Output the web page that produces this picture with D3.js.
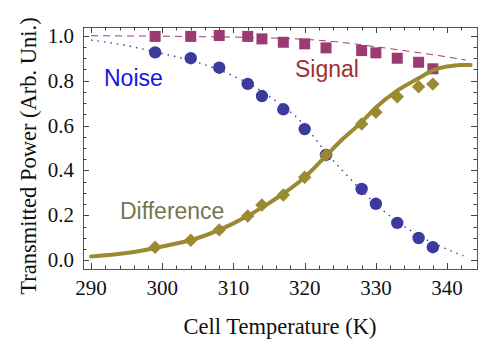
<!DOCTYPE html>
<html>
<head>
<meta charset="utf-8">
<script src="https://cdn.jsdelivr.net/npm/d3@7"></script>
<style>
  body { margin: 0; background: #fff; }
  .tick-label { font-family: "Liberation Serif", "Times New Roman", serif; font-size: 21px; fill: #111; }
  .axis-title { font-family: "Liberation Serif", "Times New Roman", serif; font-size: 22.5px; fill: #111; }
  .series-label { font-family: "Liberation Sans", Arial, sans-serif; font-size: 23px; }
</style>
</head>
<body>
<svg id="chart" width="498" height="352"></svg>
<script>
// measured temperatures (K)
var temps = [299, 304, 308, 312, 314, 317, 320, 323, 328, 330, 333, 336, 338];
var signal = [0.996, 0.996, 1.0, 0.996, 0.985, 0.970, 0.963, 0.945, 0.933, 0.923, 0.899, 0.881, 0.852];
var noise = [0.925, 0.899, 0.857, 0.785, 0.731, 0.672, 0.584, 0.469, 0.318, 0.252, 0.167, 0.100, 0.059];
var difference = [0.059, 0.090, 0.136, 0.198, 0.247, 0.291, 0.370, 0.469, 0.607, 0.659, 0.728, 0.772, 0.784];

// fitted curves
var signalFitT = [290, 295, 300, 305, 310, 315, 320, 323, 325, 330, 335, 340, 342.6];
var signalFit = [0.999, 0.998, 0.997, 0.995, 0.993, 0.989, 0.983, 0.976, 0.970, 0.950, 0.928, 0.905, 0.891];
var noiseFitT = [290, 295, 300, 305, 310, 315, 320, 323, 325, 330, 335, 340, 342.3];
var noiseFit = [0.980, 0.955, 0.920, 0.880, 0.820, 0.730, 0.600, 0.480, 0.410, 0.250, 0.130, 0.050, 0.021];
var diffFitT = [290, 295, 300, 305, 310, 315, 320, 323, 325, 328, 330, 333, 336, 338, 340, 342, 343.3];
var diffFit = [0.018, 0.033, 0.062, 0.100, 0.165, 0.255, 0.370, 0.465, 0.530, 0.615, 0.680, 0.755, 0.810, 0.845, 0.862, 0.869, 0.869];

var xTicks = [290, 300, 310, 320, 330, 340];
var yTicks = [0.0, 0.2, 0.4, 0.6, 0.8, 1.0];

var colSignal = "#9c3a72", colNoise = "#3b3b9e", colDiff = "#9a8a32";

var svg = d3.select("#chart");
var plotL = 83, plotR = 477, plotT = 27, plotB = 269;

var x = d3.scaleLinear().domain([288.87, 344.2]).range([plotL, plotR]);
var y = d3.scaleLinear().domain([-0.0378, 1.0378]).range([plotB, plotT]);

// frame
svg.append("rect")
  .attr("x", plotL + 0.5).attr("y", plotT + 0.5)
  .attr("width", plotR - plotL).attr("height", plotB - plotT)
  .attr("fill", "none").attr("stroke", "#555").attr("stroke-width", 1);

// ticks on all four sides
var g = svg.append("g").attr("stroke", "#444").attr("stroke-width", 1);
d3.range(290, 344, 2).forEach(function(t) {
  var major = t % 10 === 0;
  var len = major ? 6 : 3.5;
  var px = Math.round(x(t)) + 0.5;
  g.append("line").attr("x1", px).attr("x2", px).attr("y1", plotB).attr("y2", plotB - len);
  g.append("line").attr("x1", px).attr("x2", px).attr("y1", plotT).attr("y2", plotT + len);
});
d3.range(0, 21).forEach(function(i) {
  var v = i * 0.05;
  var major = i % 4 === 0;
  var len = major ? 6 : 3.5;
  var py = Math.round(y(v)) + 0.5;
  g.append("line").attr("x1", plotL).attr("x2", plotL + len).attr("y1", py).attr("y2", py);
  g.append("line").attr("x1", plotR).attr("x2", plotR - len).attr("y1", py).attr("y2", py);
});

svg.selectAll(".xl").data(xTicks).enter().append("text")
  .attr("class", "tick-label")
  .attr("x", function(d) { return x(d); })
  .attr("y", 295)
  .attr("text-anchor", "middle")
  .text(function(d) { return d; });

svg.selectAll(".yl").data(yTicks).enter().append("text")
  .attr("class", "tick-label")
  .attr("x", 74)
  .attr("y", function(d) { return y(d) + 7; })
  .attr("text-anchor", "end")
  .text(function(d) { return d.toFixed(1); });

svg.append("text").attr("class", "axis-title")
  .attr("x", 280).attr("y", 334)
  .attr("text-anchor", "middle")
  .text("Cell Temperature (K)");

svg.append("text").attr("class", "axis-title")
  .attr("transform", "translate(36,156) rotate(-90)")
  .attr("text-anchor", "middle")
  .text("Transmitted Power (Arb. Uni.)");

// fit curves
var line = d3.line()
  .x(function(d) { return x(d[0]); })
  .y(function(d) { return y(d[1]); })
  .curve(d3.curveMonotoneX);

svg.append("path")
  .datum(d3.zip(signalFitT, signalFit))
  .attr("d", line).attr("fill", "none")
  .attr("stroke", colSignal).attr("stroke-width", 1)
  .attr("stroke-dasharray", "7,5");

svg.append("path")
  .datum(d3.zip(noiseFitT, noiseFit))
  .attr("d", line).attr("fill", "none")
  .attr("stroke", colNoise).attr("stroke-width", 1.4)
  .attr("stroke-dasharray", "1.5,5");

// markers
svg.selectAll(".sq").data(d3.zip(temps, signal)).enter().append("rect")
  .attr("x", function(d) { return x(d[0]) - 5.5; })
  .attr("y", function(d) { return y(d[1]) - 5.5; })
  .attr("width", 11).attr("height", 11)
  .attr("fill", colSignal);

svg.selectAll(".ci").data(d3.zip(temps, noise)).enter().append("circle")
  .attr("cx", function(d) { return x(d[0]); })
  .attr("cy", function(d) { return y(d[1]); })
  .attr("r", 6.2)
  .attr("fill", colNoise);

svg.append("path")
  .datum(d3.zip(diffFitT, diffFit))
  .attr("d", line).attr("fill", "none")
  .attr("stroke", colDiff).attr("stroke-width", 4)
  .attr("stroke-linecap", "round");

var diamond = d3.symbol().type(d3.symbolDiamond2).size(115);
svg.selectAll(".di").data(d3.zip(temps, difference)).enter().append("path")
  .attr("d", diamond)
  .attr("transform", function(d) { return "translate(" + x(d[0]) + "," + y(d[1]) + ")"; })
  .attr("fill", colDiff);

// series labels
svg.append("text").attr("class", "series-label")
  .attr("x", 104).attr("y", 86).attr("fill", "#1515e0").text("Noise");
svg.append("text").attr("class", "series-label")
  .attr("x", 295).attr("y", 77).attr("fill", "#a0302e").text("Signal");
svg.append("text").attr("class", "series-label")
  .attr("x", 120).attr("y", 219).attr("fill", "#77764f").text("Difference");
</script>
</body>
</html>
